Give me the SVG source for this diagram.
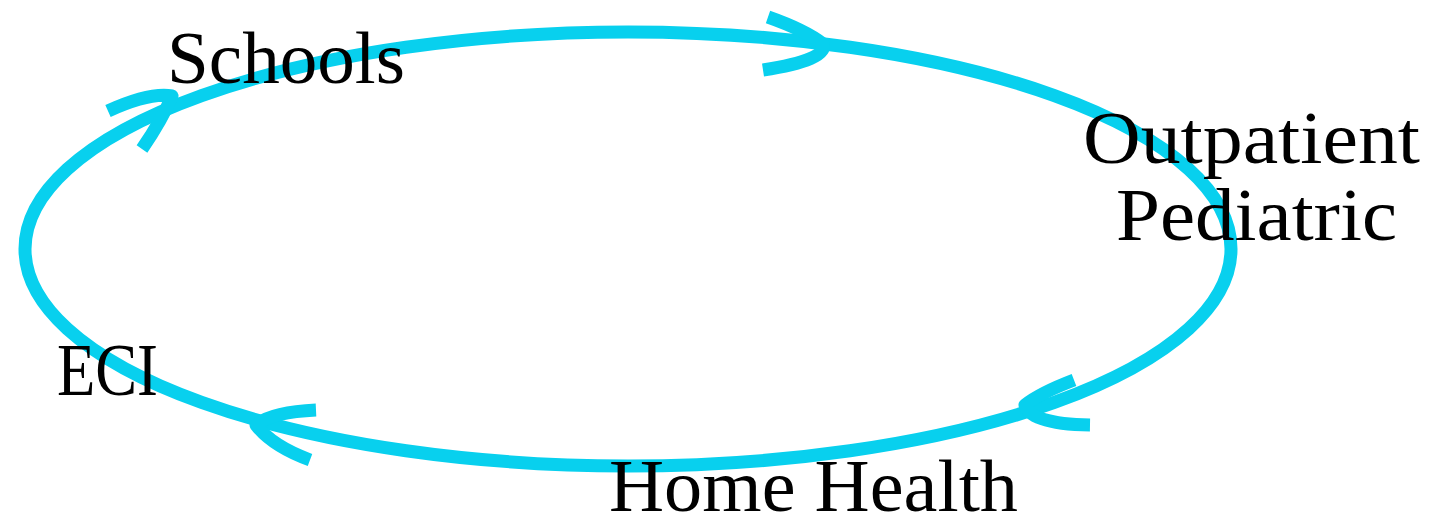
<svg xmlns="http://www.w3.org/2000/svg" width="1432" height="520" viewBox="0 0 1432 520">
<style>
.ring{fill:none;stroke:#08D0EE;stroke-width:13;stroke-linecap:butt;stroke-linejoin:round}
.arr{fill:none;stroke:#08D0EE;stroke-width:13;stroke-linecap:butt;stroke-linejoin:round}
.lbl{font-family:"Liberation Serif","Times New Roman",serif;font-size:73px;fill:#000}
</style>
<rect width="1432" height="520" fill="#fff"/>
<g id="connectors">
<ellipse class="ring" cx="628" cy="249" rx="603" ry="217"/>
<path class="arr" d="M768,17 Q805,30 823,44 Q828,60 763,70"/>
<path class="arr" d="M108,111 Q150,92 172,96 Q162,120 142,149"/>
<path class="arr" d="M1074,380 Q1040,393 1025,405 Q1030,424 1090,425"/>
<path class="arr" d="M316,410 Q272,412 256,425 Q272,446 310,460"/>
</g>
<g id="schools"><text class="lbl" x="167" y="83" textLength="238" lengthAdjust="spacingAndGlyphs">Schools</text></g>
<g id="outpatient"><text class="lbl" x="1083" y="163" textLength="337" lengthAdjust="spacingAndGlyphs">Outpatient</text><text class="lbl" x="1116" y="240" textLength="281" lengthAdjust="spacingAndGlyphs">Pediatric</text></g>
<g id="eci"><text class="lbl" x="57" y="395" textLength="101" lengthAdjust="spacingAndGlyphs">ECI</text></g>
<g id="homehealth"><text class="lbl" x="609" y="511" textLength="409" lengthAdjust="spacingAndGlyphs">Home Health</text></g>
</svg>
